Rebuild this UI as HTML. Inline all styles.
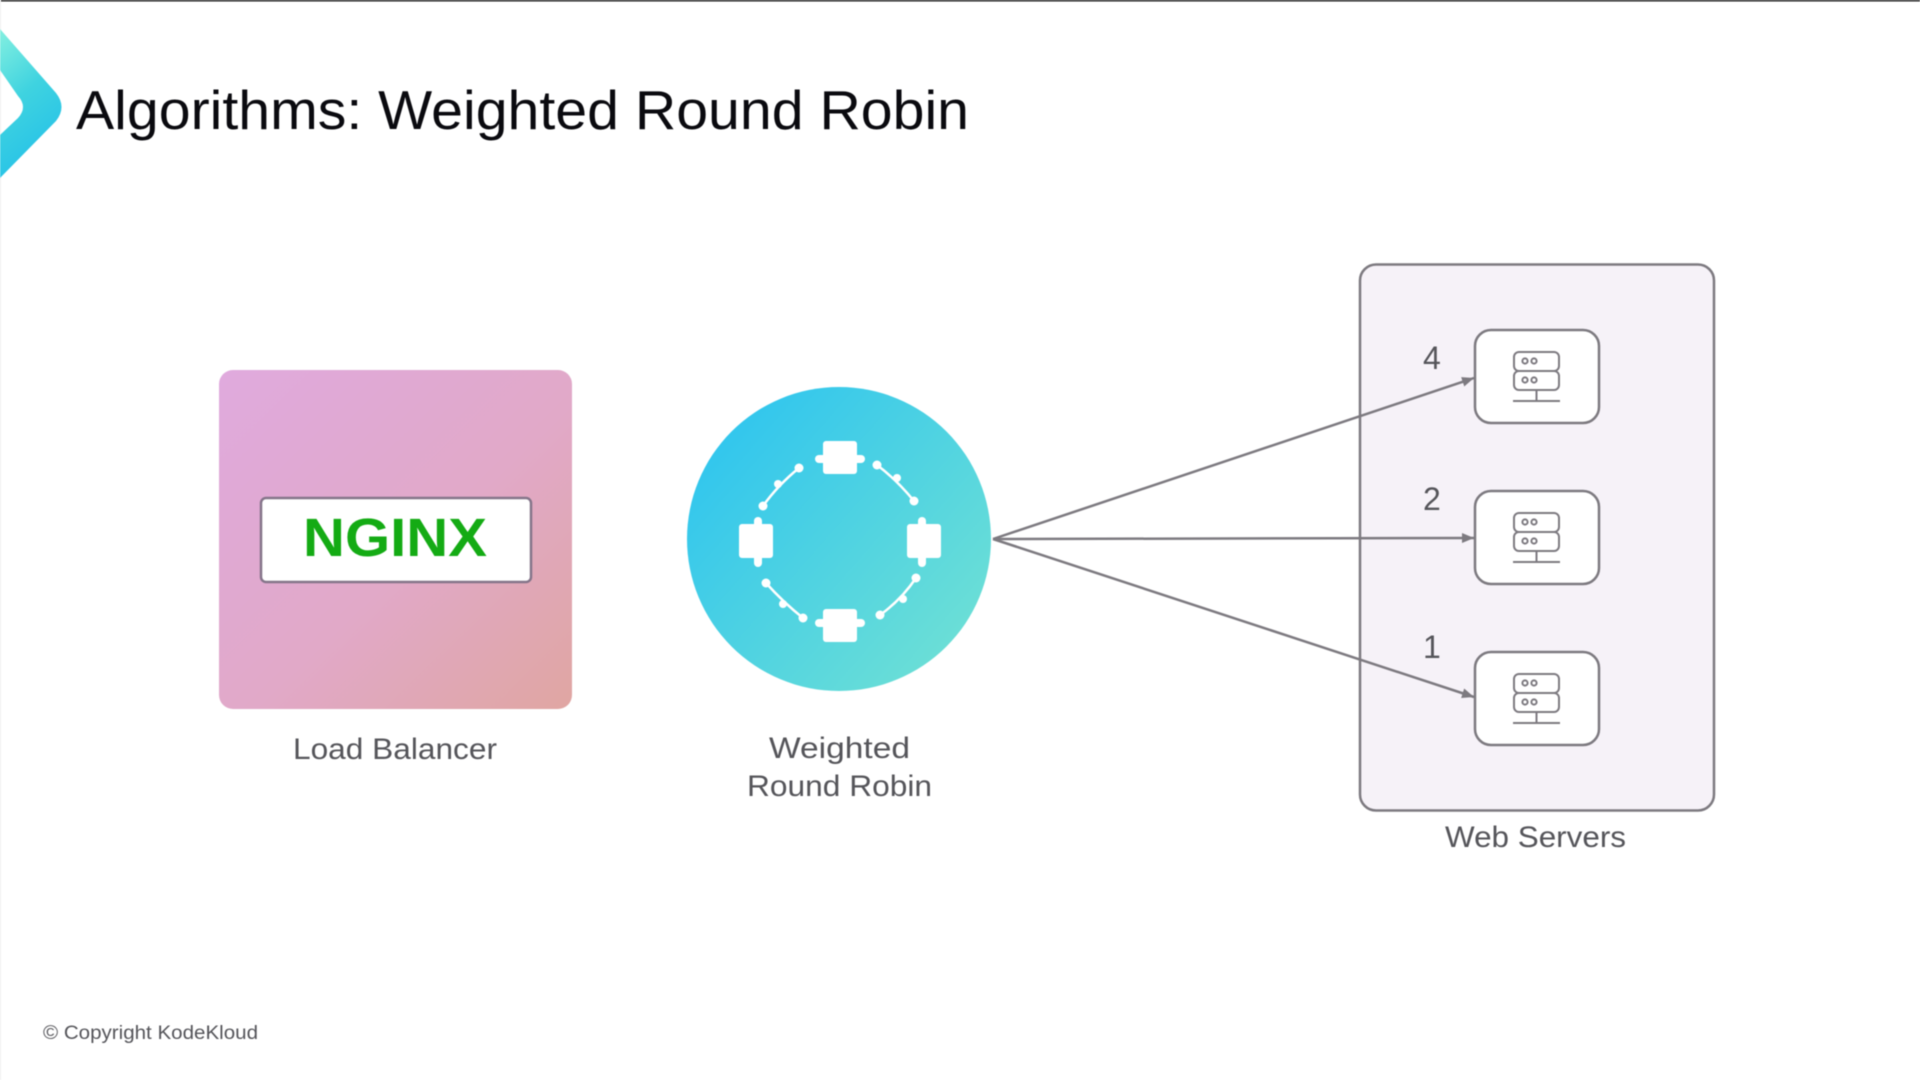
<!DOCTYPE html>
<html><head><meta charset="utf-8"><style>html,body{margin:0;padding:0;background:#fff}svg{display:block;filter:blur(0.4px)}text{font-family:"Liberation Sans",sans-serif}</style></head>
<body>
<svg width="1920" height="1080" viewBox="0 0 1920 1080" xmlns="http://www.w3.org/2000/svg">
<defs>
<linearGradient id="lg" x1="0" y1="0" x2="0.35" y2="1"><stop offset="0" stop-color="#84f0e0"/><stop offset="0.5" stop-color="#3fd3e0"/><stop offset="1" stop-color="#26c2e8"/></linearGradient>
<linearGradient id="pk" x1="0" y1="0" x2="1" y2="1"><stop offset="0" stop-color="#e0aade"/><stop offset="0.55" stop-color="#e1a9c8"/><stop offset="1" stop-color="#e0a6a2"/></linearGradient>
<linearGradient id="ci" x1="0.1" y1="0.15" x2="0.9" y2="0.85"><stop offset="0" stop-color="#31c6ee"/><stop offset="1" stop-color="#6cdfd6"/></linearGradient>
<marker id="ah" markerUnits="userSpaceOnUse" markerWidth="13" markerHeight="12" refX="12" refY="5" orient="auto"><path d="M0 0L12 5L0 10Z" fill="#7d7a80"/></marker>
<g id="srv">
<rect x="0" y="0" width="124" height="93" rx="16" fill="#fff" stroke="#7d7a80" stroke-width="2.5"/>
<g fill="none" stroke="#7d7a80" stroke-width="2">
<rect x="39" y="22" width="45" height="19" rx="5"/><rect x="39" y="41" width="45" height="19" rx="5"/>
<circle cx="50" cy="31" r="2.6"/><circle cx="59" cy="31" r="2.6"/><circle cx="50" cy="50" r="2.6"/><circle cx="59" cy="50" r="2.6"/>
<path d="M61.5 60V71M38 71H85"/>
</g></g>
</defs>
<rect width="1920" height="1080" fill="#fff"/>
<rect width="1920" height="1.500" fill="#222"/>
<rect x="0" y="0" width="1" height="1080" fill="#eee"/>
<path d="M0 29L56 93Q67 107 56 121L0 178V135L18 118Q28 107 18 96L0 70Z" fill="url(#lg)"/>
<text x="76" y="129" font-size="55" fill="#0a0a0f" textLength="893" lengthAdjust="spacingAndGlyphs">Algorithms: Weighted Round Robin</text>

<rect x="219" y="370" width="353" height="339" rx="14" fill="url(#pk)"/>
<rect x="261" y="498" width="270" height="84" rx="5" fill="#fff" stroke="#85758a" stroke-width="2.500"/>
<text x="303" y="556" font-size="54" font-weight="bold" fill="#14ab14" textLength="184" lengthAdjust="spacingAndGlyphs">NGINX</text>
<text x="293" y="759" font-size="30" fill="#55555a" textLength="204" lengthAdjust="spacingAndGlyphs">Load Balancer</text>

<circle cx="839" cy="539" r="152" fill="url(#ci)"/>
<g fill="#fff">
<rect x="823" y="441" width="34" height="33" rx="3"/><rect x="815" y="455" width="50" height="8" rx="4"/>
<rect x="823" y="609" width="34" height="33" rx="3"/><rect x="815" y="619" width="50" height="8" rx="4"/>
<rect x="739" y="524" width="34" height="34" rx="3"/><rect x="754" y="517" width="8" height="50" rx="4"/>
<rect x="907" y="524" width="34" height="34" rx="3"/><rect x="918" y="517" width="8" height="50" rx="4"/>
<circle cx="763" cy="506" r="4.500"/><circle cx="799" cy="468" r="4.500"/><circle cx="778" cy="484" r="4"/>
<circle cx="877" cy="465" r="4.500"/><circle cx="914" cy="501" r="4.500"/><circle cx="897" cy="478" r="4"/>
<circle cx="766" cy="583" r="4.500"/><circle cx="803" cy="618" r="4.500"/><circle cx="783" cy="604" r="4"/>
<circle cx="880" cy="615" r="4.500"/><circle cx="916" cy="578" r="4.500"/><circle cx="903" cy="599" r="4"/>
</g>
<g stroke="#fff" stroke-width="2.500" fill="none">
<path d="M763 506Q778 485 799 468"/><path d="M877 465Q897 480 914 501"/><path d="M766 583Q783 602 803 618"/><path d="M880 615Q901 600 916 578"/>
</g>
<text x="769" y="758" font-size="30" fill="#55555a" textLength="141" lengthAdjust="spacingAndGlyphs">Weighted</text>
<text x="747" y="796" font-size="30" fill="#55555a" textLength="185" lengthAdjust="spacingAndGlyphs">Round Robin</text>

<rect x="1360" y="264.500" width="354" height="546" rx="16" fill="#f6f2f8" stroke="#7d7a80" stroke-width="2.500"/>
<use href="#srv" x="1475" y="330"/><use href="#srv" x="1475" y="491"/><use href="#srv" x="1475" y="652"/>
<g stroke="#7d7a80" stroke-width="2.500" fill="none">
<line x1="993" y1="539" x2="1474" y2="378" marker-end="url(#ah)"/>
<line x1="993" y1="539" x2="1474" y2="538" marker-end="url(#ah)"/>
<line x1="993" y1="539" x2="1474" y2="697" marker-end="url(#ah)"/>
</g>
<text x="1423" y="369" font-size="32" fill="#55555a">4</text>
<text x="1423" y="510" font-size="32" fill="#55555a">2</text>
<text x="1423" y="658" font-size="32" fill="#55555a">1</text>
<text x="1445" y="847" font-size="30" fill="#55555a" textLength="181" lengthAdjust="spacingAndGlyphs">Web Servers</text>
<text x="43" y="1039" font-size="19" fill="#55555a" textLength="215" lengthAdjust="spacingAndGlyphs">© Copyright KodeKloud</text>
</svg>
</body></html>
